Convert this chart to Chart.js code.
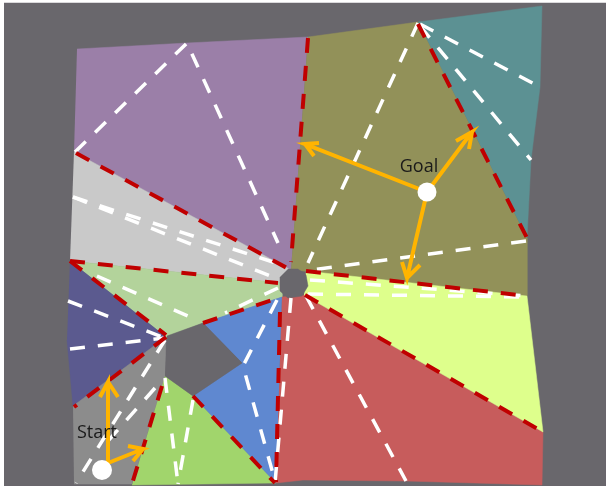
<!DOCTYPE html>
<html><head><meta charset="utf-8">
<style>html,body{margin:0;padding:0;background:#fff}#w{position:relative;width:606px;height:486px}</style>
<script src="https://cdn.jsdelivr.net/npm/chart.js@4"></script>
</head><body><div id="w"><canvas id="c" width="606" height="486"></canvas></div>
<script>
const backdrop   = [[4,3],[606,3],[606,486],[4,486]];
const purple     = [[77,49],[187,43],[308,37],[291,270],[74,152]];
const olive      = [[308,37],[418,22],[527,238],[527,296],[303,271],[291,270]];
const teal       = [[418,22],[542,6],[540,87],[531,160],[527,238]];
const lightGray  = [[74,152],[291,270],[281,283],[70,261]];
const paleGreen  = [[70,261],[282,283],[282,297],[203,323],[166,337]];
const darkBlue   = [[70,261],[166,337],[73,406],[67,340]];
const startGray  = [[73,406],[166,337],[165,376],[132,484],[74,484]];
const brightGreen= [[165,376],[193,396],[276,483],[132,485]];
const blue       = [[203,323],[282,297],[276,483],[193,396],[242,363]];
const coral      = [[282,297],[304,295],[543,432],[542,485],[406,481],[303,480],[276,483]];
const lime       = [[306,271],[527,296],[543,432],[304,295]];
const hole       = [[167,336],[203,323],[242,363],[193,396],[165,376]];
const hub        = [[288,269],[298,269],[306,275],[308,286],[302,296],[288,298],[280,291],[280,277]];

const regionColors = ['#69676c','#9b7fa8','#929159','#5c9193','#c9c9c9','#b3d39b','#5b5a8f','#8c8c8c','#a1d56c','#5f88d0','#c75c5c','#deff8c','#69676c','#69676c'];

const whitePaths = [
  [[75,152],[187,43],[278,243]],
  [[418,23],[308,263]],
  [[420,24],[540,87]],
  [[420,26],[531,160]],
  [[526,241],[312,270]],
  [[310,280],[527,296]],
  [[308,294],[527,297]],
  [[306,296],[406,481]],
  [[73,197],[273,277]],
  [[73,197],[279,264]],
  [[97,276],[190,317]],
  [[278,288],[225,313]],
  [[68,301],[165,338]],
  [[70,349],[165,338]],
  [[165,340],[76,483]],
  [[155,388],[100,450]],
  [[165,378],[178,484]],
  [[193,400],[178,484]],
  [[277,300],[243,366],[275,481]],
  [[291,298],[275,483]]
];
const redPaths = [
  [[76,153],[287,268]],
  [[308,38],[291,262]],
  [[418,24],[527,238]],
  [[306,271],[527,296]],
  [[305,295],[543,432]],
  [[70,261],[278,283]],
  [[70,261],[166,335]],
  [[166,337],[74,407]],
  [[162,386],[132,484]],
  [[193,396],[275,483]],
  [[203,323],[275,299]],
  [[280,312],[276,482]]
];
const arrows = [
  [[427,192],[305,144],[319,143],[305,144],[314,156]],
  [[427,192],[472,132],[456,141],[472,132],[469,149]],
  [[427,192],[407,278],[402,262],[407,278],[420,265]],
  [[108,463],[108,382],[100,397],[108,382],[118,397]],
  [[108,463],[143,449],[128,446],[143,449],[133,461]]
];
const markers = [[427,192],[102,470]];
const markerSizes = [9.5,10];
const labels = [['Goal',419,167],['Start',97,433]];

const pts = a => a.map(p => ({x:p[0],y:p[1]}));
const datasets = [];
[backdrop,purple,olive,teal,lightGray,paleGreen,darkBlue,startGray,brightGreen,blue,coral,lime,hole,hub].forEach((poly,i)=>{
  datasets.push({data:pts(poly),showLine:true,fill:'shape',backgroundColor:regionColors[i],borderColor:regionColors[i],borderWidth:0.5,pointRadius:0,tension:0});
});
whitePaths.forEach(p=>datasets.push({data:pts(p),showLine:true,fill:false,borderColor:'#ffffff',borderWidth:3.5,borderDash:[15,13],borderCapStyle:'butt',pointRadius:0,tension:0}));
redPaths.forEach(p=>datasets.push({data:pts(p),showLine:true,fill:false,borderColor:'#c00000',borderWidth:4,borderDash:[15,13],borderCapStyle:'butt',pointRadius:0,tension:0}));
arrows.forEach(p=>datasets.push({data:pts(p),showLine:true,fill:false,borderColor:'#ffb400',borderWidth:4,borderJoinStyle:'miter',pointRadius:0,tension:0}));
datasets.push({data:pts(markers),showLine:false,pointRadius:markerSizes,pointBackgroundColor:'#ffffff',pointBorderWidth:0});
datasets.forEach((d,i)=>{d.order=-i;d.clip=false;});

const textPlugin = {id:'texts',afterDatasetsDraw(chart){
  const {ctx,scales:{x,y}}=chart;
  ctx.save();ctx.font='18px "Open Sans"';ctx.fillStyle='#1a1a1a';ctx.textAlign='center';ctx.textBaseline='middle';
  labels.forEach(l=>ctx.fillText(l[0],x.getPixelForValue(l[1]),y.getPixelForValue(l[2])));
  ctx.restore();
}};

new Chart(document.getElementById('c'),{
  type:'scatter',
  data:{datasets},
  options:{responsive:false,animation:false,events:[],layout:{padding:0,autoPadding:false},
    plugins:{legend:{display:false},tooltip:{enabled:false}},
    scales:{x:{type:'linear',min:0,max:606,display:false},y:{type:'linear',min:0,max:486,reverse:true,display:false}}},
  plugins:[textPlugin]
});
</script></body></html>
